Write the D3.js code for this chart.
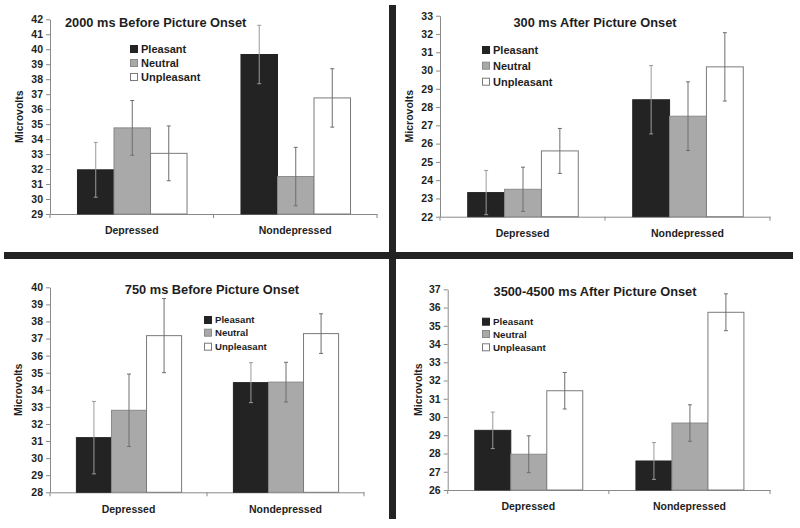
<!DOCTYPE html>
<html><head><meta charset="utf-8">
<script src="https://cdn.jsdelivr.net/npm/d3@7"></script>
<style>
body{margin:0;background:#fff;}
svg{display:block;font-family:"Liberation Sans",Arial,sans-serif;font-weight:bold;}
</style></head>
<body>
<svg id="chart" width="800" height="528"></svg>
<script>
// ---- data ----
const groups = ["Depressed", "Nondepressed"];
const conditions = ["Pleasant", "Neutral", "Unpleasant"];
const titles = ["2000 ms Before Picture Onset", "300 ms After Picture Onset",
                "750 ms Before Picture Onset", "3500-4500 ms After Picture Onset"];
const yLabel = "Microvolts";
const yTicks1 = [29,30,31,32,33,34,35,36,37,38,39,40,41,42];
const yTicks2 = [22,23,24,25,26,27,28,29,30,31,32,33];
const yTicks3 = [28,29,30,31,32,33,34,35,36,37,38,39,40];
const yTicks4 = [26,27,28,29,30,31,32,33,34,35,36,37];
// means [group][condition]
const means1 = [[31.95, 34.75, 33.05], [39.65, 31.5, 36.75]];
const means2 = [[23.32, 23.5, 25.6], [28.4, 27.5, 30.2]];
const means3 = [[31.2, 32.8, 37.17], [34.42, 34.45, 37.29]];
const means4 = [[29.27, 27.96, 31.44], [27.59, 29.67, 35.74]];
// error bar half-lengths
const err1 = [[1.83, 1.83, 1.83], [1.95, 1.95, 1.95]];
const err2 = [[1.21, 1.21, 1.23], [1.87, 1.88, 1.87]];
const err3 = [[2.12, 2.12, 2.17], [1.17, 1.16, 1.16]];
const err4 = [[1.0, 1.01, 1.0], [1.01, 1.0, 1.01]];

// ---- styles ----
const fills = {Pleasant: "#232323", Neutral: "#a9a9a9", Unpleasant: "#ffffff"};
const strokes = {Pleasant: "#232323", Neutral: "#8a8a8a", Unpleasant: "#7a7a7a"};

const panels = [
  {means: means1, err: err1, ticks: yTicks1, title: titles[0],
   x0: 50, x1: 377, yT: 19.3, yB: 214, titleX: 65, titleAnchor: "start", titleY: 27, titleSize: 12.8,
   legX: 130, legY: [49, 63, 77], legSize: 11, legBox: 7, ylabX: 19, xlabDy: 21},
  {means: means2, err: err2, ticks: yTicks2, title: titles[1],
   x0: 440, x1: 770, yT: 15.7, yB: 216.7, titleX: 595, titleAnchor: "middle", titleY: 26.5, titleSize: 12.8,
   legX: 482, legY: [50, 65.7, 81.7], legSize: 11, legBox: 7, ylabX: 409, xlabDy: 21},
  {means: means3, err: err3, ticks: yTicks3, title: titles[2],
   x0: 50, x1: 364, yT: 287.3, yB: 492.3, titleX: 212, titleAnchor: "middle", titleY: 294, titleSize: 12.8,
   legX: 204, legY: [320, 332.7, 346.7], legSize: 9.6, legBox: 7, ylabX: 18, xlabDy: 21},
  {means: means4, err: err4, ticks: yTicks4, title: titles[3],
   x0: 447.7, x1: 770, yT: 289.3, yB: 490, titleX: 595, titleAnchor: "middle", titleY: 296, titleSize: 12.8,
   legX: 482, legY: [321.7, 334, 347.3], legSize: 9.8, legBox: 7, ylabX: 418, xlabDy: 21}
];

const svg = d3.select("#chart");

// dividers
svg.append("rect").attr("x", 389).attr("y", 5).attr("width", 7).attr("height", 514).attr("fill", "#232323");
svg.append("rect").attr("x", 4).attr("y", 252).attr("width", 789).attr("height", 7).attr("fill", "#232323");

panels.forEach(p => {
  const g = svg.append("g");
  const y = d3.scaleLinear().domain([p.ticks[0], p.ticks[p.ticks.length - 1]]).range([p.yB, p.yT]);
  const x = d3.scaleBand().domain(groups).range([p.x0, p.x1]).paddingInner(0.33).paddingOuter(0.165);
  const xs = d3.scaleBand().domain(conditions).range([0, x.bandwidth()]).padding(0);

  // y axis
  const ya = g.append("g").attr("transform", `translate(${p.x0},0)`)
    .call(d3.axisLeft(y).tickValues(p.ticks).tickSize(4).tickPadding(3).tickSizeOuter(0));
  ya.select(".domain").attr("stroke", "#8a8a8a");
  ya.selectAll(".tick line").attr("stroke", "#8a8a8a");
  ya.selectAll("text").attr("font-size", 10.5).attr("fill", "#1e1e1e").attr("font-weight", "bold");

  // x axis
  const xa = g.append("g").attr("transform", `translate(0,${p.yB})`)
    .call(d3.axisBottom(x).tickSize(0).tickPadding(p.xlabDy - 8).tickSizeOuter(0));
  xa.select(".domain").attr("stroke", "#8a8a8a");
  xa.selectAll("text").attr("font-size", 10.5).attr("fill", "#1e1e1e").attr("font-weight", "bold");
  const edges = [x.range()[0], (x.range()[0] + x.range()[1]) / 2, x.range()[1]];
  xa.selectAll(".edge").data(edges).enter().append("line")
    .attr("x1", d => d).attr("x2", d => d).attr("y1", 0).attr("y2", 4).attr("stroke", "#8a8a8a");

  // bars
  const rows = [];
  groups.forEach((gr, gi) => conditions.forEach((c, ci) =>
    rows.push({group: gr, cond: c, v: p.means[gi][ci], e: p.err[gi][ci]})));
  g.selectAll(".bar").data(rows).enter().append("rect")
    .attr("x", d => x(d.group) + xs(d.cond) + 0.5)
    .attr("y", d => y(d.v))
    .attr("width", xs.bandwidth())
    .attr("height", d => y(p.ticks[0]) - y(d.v))
    .attr("fill", d => fills[d.cond])
    .attr("stroke", d => strokes[d.cond]).attr("stroke-width", 1);

  // error bars
  const eb = g.selectAll(".err").data(rows).enter().append("g")
    .attr("stroke", d => d.cond === "Pleasant" ? "#9a9a9a" : "#6e6e6e").attr("stroke-width", 1);
  const cx = d => x(d.group) + xs(d.cond) + xs.bandwidth() / 2 + 0.5;
  eb.append("line").attr("x1", cx).attr("x2", cx).attr("y1", d => y(d.v + d.e)).attr("y2", d => y(d.v - d.e));
  eb.append("line").attr("x1", d => cx(d) - 2).attr("x2", d => cx(d) + 2).attr("y1", d => y(d.v + d.e)).attr("y2", d => y(d.v + d.e));
  eb.append("line").attr("x1", d => cx(d) - 2).attr("x2", d => cx(d) + 2).attr("y1", d => y(d.v - d.e)).attr("y2", d => y(d.v - d.e));

  // title
  g.append("text").attr("x", p.titleX).attr("y", p.titleY).attr("text-anchor", p.titleAnchor)
    .attr("font-size", p.titleSize).attr("fill", "#1e1e1e").text(p.title);

  // y label
  const my = (p.yT + p.yB) / 2;
  g.append("text").attr("transform", `translate(${p.ylabX + 4},${my}) rotate(-90)`)
    .attr("text-anchor", "middle").attr("font-size", 10.5).attr("fill", "#1e1e1e").text(yLabel);

  // legend
  const lg = g.selectAll(".leg").data(conditions).enter().append("g")
    .attr("transform", (d, i) => `translate(${p.legX},${p.legY[i]})`);
  lg.append("rect").attr("x", 0.5).attr("y", -p.legBox / 2).attr("width", p.legBox).attr("height", p.legBox)
    .attr("fill", d => fills[d]).attr("stroke", d => strokes[d]).attr("stroke-width", 1);
  lg.append("text").attr("x", p.legBox + 4).attr("y", 0).attr("dy", "0.36em")
    .attr("font-size", p.legSize).attr("fill", "#1e1e1e").text(d => d);
});
</script>
</body></html>
